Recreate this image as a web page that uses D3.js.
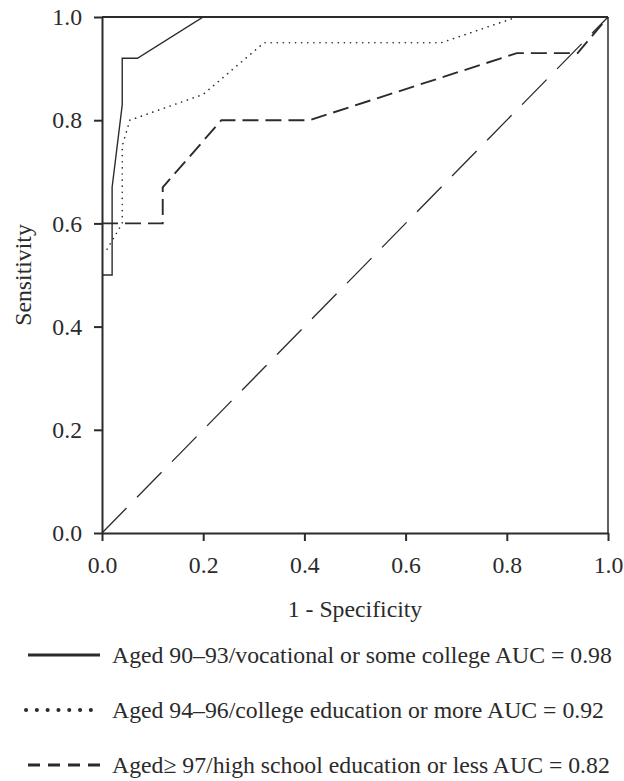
<!DOCTYPE html>
<html>
<head>
<meta charset="utf-8">
<script src="https://cdn.jsdelivr.net/npm/d3@7"></script>
<style>
  html, body { margin: 0; padding: 0; background: #fff; }
  svg { display: block; }
</style>
</head>
<body>
<svg id="chart" width="624" height="781"></svg>
<script>
// ---- data ----
const xTicks = [0, 0.2, 0.4, 0.6, 0.8, 1.0];
const yTicks = [0, 0.2, 0.4, 0.6, 0.8, 1.0];
const xLabel = "1 - Specificity";
const yLabel = "Sensitivity";

const seriesNames = [
  "Aged 90\u201393/vocational or some college AUC = 0.98",
  "Aged 94\u201396/college education or more AUC = 0.92",
  "Aged\u2265 97/high school education or less AUC = 0.82"
];
const fpr90 = [0, 0.02, 0.02, 0.04, 0.04, 0.07, 0.2, 1.0];
const tpr90 = [0.5, 0.5, 0.67, 0.83, 0.92, 0.92, 1.0, 1.0];
const fpr94 = [0.01, 0.04, 0.04, 0.055, 0.2, 0.32, 0.67, 0.82, 1.0];
const tpr94 = [0.55, 0.6, 0.75, 0.8, 0.85, 0.95, 0.95, 1.0, 1.0];
const fpr97 = [0, 0.12, 0.12, 0.236, 0.41, 0.82, 0.94, 1.0];
const tpr97 = [0.6, 0.6, 0.67, 0.8, 0.8, 0.93, 0.93, 1.0];
const refFpr = [0, 1];
const refTpr = [0, 1];

// ---- drawing ----
const svg = d3.select("#chart");
const ink = "#2b2b2b";
const FONT = '"Liberation Serif", "Times New Roman", serif';
const x = d3.scaleLinear().domain([0, 1]).range([102, 608]);
const y = d3.scaleLinear().domain([0, 1]).range([533, 17]);

// measure font so that the widest legend entry spans ~500px, as in the original
const probe = svg.append("text").style("font-family", FONT).attr("font-size", 20).text(seriesNames[0]);
const fontSize = Math.min(24, 20 * 500 / probe.node().getComputedTextLength());
probe.remove();

const line = d3.line().x(d => x(d[0])).y(d => y(d[1]));
const zipPts = (a, b) => a.map((v, i) => [v, b[i]]);

// reference diagonal
svg.append("path").datum(zipPts(refFpr, refTpr))
  .attr("d", line).attr("fill", "none").attr("stroke", ink)
  .attr("stroke-width", 1.3).attr("stroke-dasharray", "35,15");

const styles = [
  { w: 1.4, dash: null, cap: "butt" },
  { w: 1.6, dash: "0.1,6", cap: "round" },
  { w: 1.9, dash: "16,7", cap: "butt" }
];
const data = [zipPts(fpr90, tpr90), zipPts(fpr94, tpr94), zipPts(fpr97, tpr97)];
data.forEach((d, i) => {
  svg.append("path").datum(d)
    .attr("d", line).attr("fill", "none").attr("stroke", ink)
    .attr("stroke-width", styles[i].w)
    .attr("stroke-linecap", styles[i].cap)
    .attr("stroke-linejoin", "miter")
    .attr("stroke-dasharray", styles[i].dash);
});

// frame (top and right)
svg.append("line").attr("x1", x(0)).attr("x2", x(1)).attr("y1", y(1)).attr("y2", y(1))
  .attr("stroke", ink).attr("stroke-width", 1.8);
svg.append("line").attr("x1", x(1)).attr("x2", x(1)).attr("y1", y(0)).attr("y2", y(1))
  .attr("stroke", ink).attr("stroke-width", 1.5);

// axes
const xAxis = svg.append("g").attr("transform", `translate(0,${y(0)})`)
  .call(d3.axisBottom(x).tickValues(xTicks).tickFormat(d3.format(".1f")).tickSizeInner(8).tickSizeOuter(0).tickPadding(15));
const yAxis = svg.append("g").attr("transform", `translate(${x(0)},0)`)
  .call(d3.axisLeft(y).tickValues(yTicks).tickFormat(d3.format(".1f")).tickSizeInner(8).tickSizeOuter(0).tickPadding(12));
[xAxis, yAxis].forEach(g => {
  g.attr("font-family", null).attr("font-size", null);
  g.select(".domain").attr("stroke", ink).attr("stroke-width", 2);
  g.selectAll(".tick line").attr("stroke", ink).attr("stroke-width", 2);
  g.selectAll(".tick text").style("font-family", FONT).attr("font-size", fontSize).attr("fill", ink);
});
xAxis.selectAll(".tick text").attr("dy", "0.71em");

svg.append("text").attr("x", x(0.5)).attr("y", 617).attr("text-anchor", "middle")
  .style("font-family", FONT).attr("fill", ink).attr("font-size", fontSize).text(xLabel);
svg.append("text").attr("transform", `translate(31,${y(0.5)}) rotate(-90)`)
  .attr("text-anchor", "middle").style("font-family", FONT).attr("fill", ink)
  .attr("font-size", fontSize).text(yLabel);

// legend
const legY = [655, 710, 765];
const legStyles = [
  { w: 3.2, dash: null, cap: "butt", x1: 28, x2: 100 },
  { w: 4, dash: "0.1,10.7", cap: "round", x1: 26, x2: 101 },
  { w: 3.2, dash: "12,8", cap: "butt", x1: 28, x2: 100 }
];
seriesNames.forEach((name, i) => {
  const s = legStyles[i];
  svg.append("line").attr("x1", s.x1).attr("x2", s.x2).attr("y1", legY[i]).attr("y2", legY[i])
    .attr("stroke", ink).attr("stroke-width", s.w).attr("stroke-linecap", s.cap)
    .attr("stroke-dasharray", s.dash);
  svg.append("text").attr("x", 112).attr("y", legY[i]).attr("dy", "0.35em")
    .style("font-family", FONT).attr("fill", ink)
    .attr("font-size", fontSize).text(name);
});
</script>
</body>
</html>
